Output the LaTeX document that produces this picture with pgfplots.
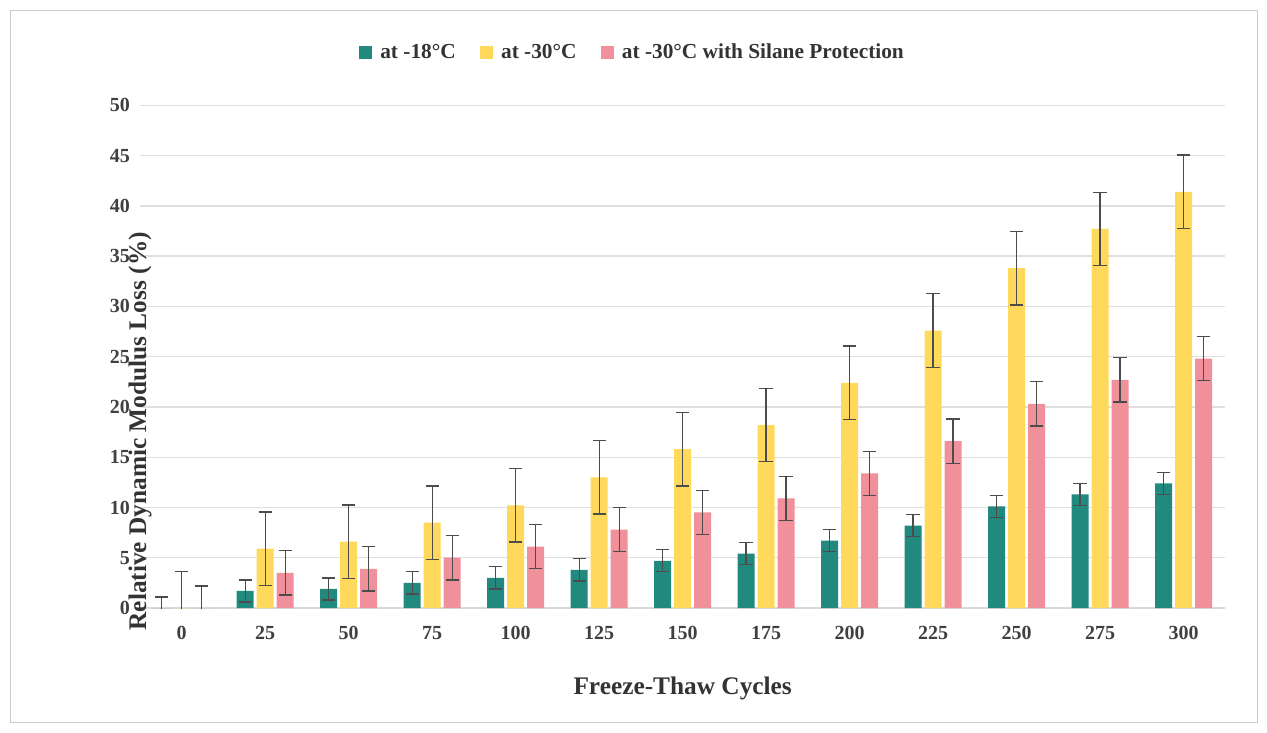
\documentclass[border=0pt]{standalone}
\usepackage{pgfplots}
\pgfplotsset{compat=1.18}
\usepackage{fontspec}
\setmainfont{Liberation Serif}
\definecolor{cA}{HTML}{21897E}
\definecolor{cB}{HTML}{FFD95C}
\definecolor{cC}{HTML}{F0909A}
\begin{document}
\begin{tikzpicture}
\path (-105pt,-93pt) rectangle (845.25pt,456pt);
\draw[gray!40] (-97.5pt,-85.5pt) rectangle (837.75pt,448.5pt);
\begin{axis}[
  at={(0,0)}, anchor=south west,
  scale only axis, width=814pt, height=377pt,
  ybar=2.25pt, bar width=12.75pt,
  xmin=-0.5, xmax=12.5, ymin=0, ymax=50,
  ytick={0,5,...,50},
  xtick={0,...,12},
  xticklabels={0,25,50,75,100,125,150,175,200,225,250,275,300},
  ymajorgrids, grid style={gray!25, line width=1pt},
  axis x line*=bottom, axis y line*=left,
  x axis line style={gray!30, line width=1pt},
  y axis line style={draw=none},
  tick style={draw=none},
  ticklabel style={font=\fontsize{15}{15}\selectfont\bfseries, text=black!75},
  /pgf/number format/assume math mode=true,
  xticklabel style={yshift=-6pt},
  yticklabel style={xshift=-4pt},
  xlabel={Freeze-Thaw Cycles},
  ylabel={Relative Dynamic Modulus Loss (\%)},
  label style={font=\fontsize{19}{19}\selectfont\bfseries, text=black!80},
  xlabel style={at={(axis description cs:0.5,0)}, anchor=center, yshift=-60pt},
  ylabel style={at={(axis description cs:0,0.5)}, anchor=center, xshift=-56pt, rotate=0},
  legend style={at={(axis description cs:0.454,1.105)}, anchor=center, draw=none, legend columns=-1,
    font=\fontsize{16}{16}\selectfont\bfseries, text=black!80, /tikz/every even column/.append style={column sep=16pt}},
  legend image code/.code={\fill[#1] (0pt,-5pt) rectangle (10pt,5pt);},
  error bars/y dir=both, error bars/y explicit,
  error bars/error bar style={black!70, line width=1pt},
  error bars/error mark options={rotate=90, mark size=5pt, black!70, line width=1pt},
]
\addplot[fill=cA, draw=none] coordinates {
(0,0) +- (0,1.1) (1,1.7) +- (0,1.1) (2,1.9) +- (0,1.1) (3,2.5) +- (0,1.1) (4,3.0) +- (0,1.1)
(5,3.8) +- (0,1.1) (6,4.7) +- (0,1.1) (7,5.4) +- (0,1.1) (8,6.7) +- (0,1.1) (9,8.2) +- (0,1.1)
(10,10.1) +- (0,1.1) (11,11.3) +- (0,1.1) (12,12.4) +- (0,1.1)};
\addplot[fill=cB, draw=none] coordinates {
(0,0) +- (0,3.65) (1,5.9) +- (0,3.65) (2,6.6) +- (0,3.65) (3,8.5) +- (0,3.65) (4,10.2) +- (0,3.65)
(5,13.0) +- (0,3.65) (6,15.8) +- (0,3.65) (7,18.2) +- (0,3.65) (8,22.4) +- (0,3.65) (9,27.6) +- (0,3.65)
(10,33.8) +- (0,3.65) (11,37.7) +- (0,3.65) (12,41.4) +- (0,3.65)};
\addplot[fill=cC, draw=none] coordinates {
(0,0) +- (0,2.2) (1,3.5) +- (0,2.2) (2,3.9) +- (0,2.2) (3,5.0) +- (0,2.2) (4,6.1) +- (0,2.2)
(5,7.8) +- (0,2.2) (6,9.5) +- (0,2.2) (7,10.9) +- (0,2.2) (8,13.4) +- (0,2.2) (9,16.6) +- (0,2.2)
(10,20.3) +- (0,2.2) (11,22.7) +- (0,2.2) (12,24.8) +- (0,2.2)};
\legend{\ at -18°C, \ at -30°C, \ at -30°C with Silane Protection}
\end{axis}
\end{tikzpicture}
\end{document}
